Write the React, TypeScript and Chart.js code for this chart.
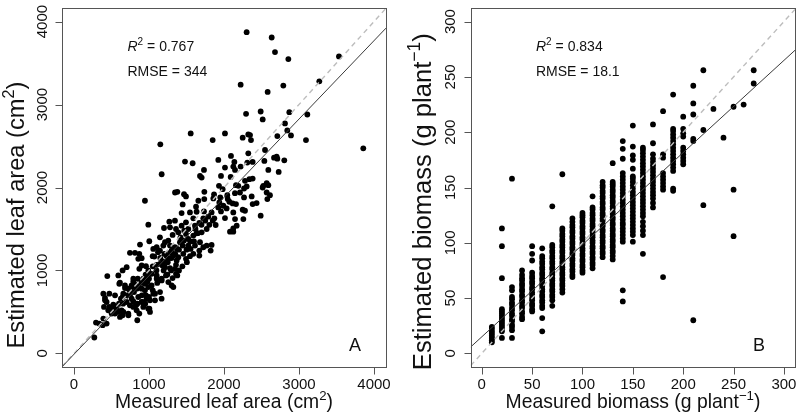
import React, { useEffect, useRef } from "react";
import { Chart, registerables } from "chart.js";
Chart.register(...registerables);

// ---------------- Panel A: leaf area ----------------
const leafTicks = [0, 1000, 2000, 3000, 4000];
const leafMeasured = [
  2302, 2636, 2680, 2858, 3533, 3271, 2222, 2791, 2582, 2294,
  2489, 2871, 3111, 2516, 2813, 2844, 2893, 2711, 3093, 3857,
  1556, 2013, 1849, 2324, 2347, 2249, 2360, 1151, 1169, 1480,
  1582, 1733, 1680, 1702, 1924, 2093, 2138, 2124, 2147, 2013,
  2324, 2547, 2382, 2311, 2222, 2538, 2667, 2711, 2702, 2804,
  2591, 2729, 1960, 2089, 2160, 2191, 2267, 2302, 2338, 2382,
  2280, 2524, 2569, 2591, 2515, 1933, 1738, 1867, 1378, 1347,
  1467, 1493, 1658, 1858, 2044, 2071, 2116, 2160, 2369, 2435,
  2578, 2613, 1449, 1627, 1938, 1991, 2267, 2569, 2489, 2280,
  2249, 2258, 2147, 2124, 2080, 2124, 1982, 2146, 2213, 2382,
  1737, 2035,
  946, 991, 1435, 1546, 1635, 1733, 1835, 1924, 1960, 2013,
  2124, 2169, 1271, 1346, 1280, 1200, 1360, 1435, 1493, 1524,
  1591, 1613, 1671, 1724, 1791, 1871, 1889, 1769, 1702, 1635,
  1591, 1524, 1493, 1391, 1315, 1257, 1146, 1213, 1004, 880,
  746, 813, 871, 1057, 1071, 1102, 1146, 1191, 1280, 1346,
  1377, 1413, 1466, 1524, 1555, 1613, 1671, 1724, 1769, 1822,
  1835, 1680, 1280, 1324, 1391, 1457, 1493, 1546, 1591, 1671,
  1369, 1257, 1191, 1146, 1102, 1213, 1280, 1346, 1377, 1315,
  1226, 1168, 1102, 1035, 991, 960, 902, 857, 702, 648,
  591, 444, 604, 680, 768, 813, 857, 902, 946, 991,
  1035, 1080, 1168, 1302, 924, 946, 791, 724, 657, 626,
  702, 746, 791, 844, 915, 968, 1013, 746, 800, 857,
  413, 435, 400, 457, 502, 524, 591, 635, 648, 502,
  546, 471, 391, 724, 791, 835, 871, 924, 991, 1013,
  844, 293, 337, 382, 435, 391, 271,
  1049, 902, 1302, 1236, 1360, 871, 1005, 947, 978, 1102,
  1169, 1258, 1360, 1325, 613, 791, 680, 747, 836, 960,
  1058, 1147, 1080, 1005, 902, 827, 769, 649, 547, 414,
  471, 569, 516, 658, 725, 613,
  1100, 1150, 1205, 1250, 1300, 1050, 1000, 1110, 1195, 1295,
  1245, 1350, 1400, 1450, 1500, 1550, 1445, 1400, 1505, 1600,
  1650, 1700, 1750, 1805, 1850, 955, 900, 850, 805, 750,
  700, 655, 600, 555, 905, 950, 1000, 1050, 1120, 1180,
  1230, 1420, 1470, 1620, 1950, 2050,
];
const leafEstimated = [
  3872, 3808, 3632, 3548, 3580, 3280, 3240, 3228, 3152, 2888,
  2916, 2908, 2880, 2820, 2772, 2688, 2628, 2620, 2572, 2472,
  2652, 2652, 2572, 2640, 2632, 2600, 2572, 2520, 2160, 2312,
  2292, 2212, 2140, 2120, 2332, 2380, 2308, 2252, 2212, 2240,
  2412, 2452, 2308, 2300, 2252, 2320, 2360, 2348, 2372, 2328,
  2212, 2188, 2140, 2128, 2028, 2020, 1988, 2012, 2100, 2108,
  2080, 2020, 2052, 2028, 2000, 2020, 1948, 1916, 1948, 1940,
  1920, 1892, 1840, 1868, 1908, 1828, 1808, 1800, 1892, 1812,
  1860, 1908, 1796, 1768, 1820, 1780, 1880, 1940, 1660, 1720,
  1732, 1620, 1620, 1508, 1468, 1468, 1980, 1932, 1940, 1800,
  1860, 1748,
  1840, 1552, 1692, 1700, 1708, 1712, 1700, 1760, 1712, 1632,
  1700, 1540, 1588, 1600, 1520, 1512, 1500, 1540, 1580, 1500,
  1628, 1540, 1572, 1628, 1648, 1628, 1548, 1500, 1460, 1448,
  1420, 1380, 1440, 1460, 1428, 1360, 1400, 1340, 1352, 1312,
  1212, 1212, 1200, 1260, 1168, 1280, 1240, 1300, 1300, 1280,
  1260, 1340, 1360, 1300, 1260, 1300, 1240, 1280, 1300, 1240,
  1308, 1340, 1212, 1180, 1160, 1200, 1140, 1172, 1200, 1180,
  1120, 1140, 1108, 1080, 1068, 1040, 1028, 1020, 940, 908,
  940, 900, 940, 960, 1000, 1052, 1060, 1140, 1040, 1000,
  940, 932, 840, 820, 820, 828, 812, 780, 760, 800,
  820, 720, 660, 820, 900, 840, 900, 780, 720, 660,
  620, 580, 628, 600, 620, 660, 640, 700, 740, 680,
  668, 620, 560, 520, 532, 588, 500, 520, 460, 480,
  480, 720, 720, 480, 560, 520, 480, 560, 540, 500,
  400, 372, 360, 340, 360, 420, 192,
  1172, 1148, 1240, 1100, 1068, 1020, 960, 900, 860, 900,
  880, 860, 960, 800, 852, 868, 788, 760, 780, 700,
  720, 740, 640, 540, 620, 580, 660, 680, 700, 640,
  560, 540, 500, 500, 460, 440,
  1000, 1150, 1200, 1100, 1150, 1050, 900, 850, 1000, 1000,
  950, 1200, 1250, 1300, 1250, 1350, 1050, 1000, 1100, 1350,
  1450, 1550, 1600, 1550, 1600, 950, 850, 900, 800, 750,
  700, 600, 600, 560, 700, 600, 680, 760, 1220, 1060,
  1180, 1400, 1480, 1500, 1880, 1860,
];
const leafFit = { intercept: -10, slope: 0.945 };
const leafRange = [-160, 4160];

// ---------------- Panel B: biomass ----------------
const biomassTicks = [0, 50, 100, 150, 200, 250, 300];
const biomassMeasuredLevels = [
  10, 20, 30, 40, 50, 60, 70, 80, 90, 100, 110, 120, 130, 140,
  150, 160, 170, 180, 190, 200, 210, 220, 230, 240, 250, 260, 270,
];
const biomassEstimatedByLevel = [
  [10, 12, 14, 16, 18, 20, 22, 24],
  [14, 20, 22, 24, 26, 28, 30, 32, 34, 36, 38, 40, 68, 97, 113],
  [14, 21, 24, 26, 29, 31, 34, 36, 39, 41, 44, 46, 49, 51, 57, 60, 158],
  [31, 33, 36, 38, 41, 43, 46, 48, 51, 53, 56, 58, 61, 63, 66, 68, 71, 75],
  [38, 40, 43, 45, 48, 50, 53, 55, 58, 60, 63, 65, 68, 70, 73, 84, 90, 97],
  [20, 32, 41, 43, 46, 48, 51, 53, 56, 58, 61, 63, 66, 68, 71, 73, 76, 78, 81, 83, 86, 88, 95],
  [43, 48, 51, 53, 56, 58, 61, 63, 66, 68, 71, 73, 76, 78, 81, 83, 86, 88, 91, 93, 96, 98, 133],
  [55, 58, 61, 63, 66, 68, 71, 73, 76, 78, 81, 83, 86, 88, 91, 93, 96, 98, 101, 103, 106, 108, 111, 113, 162],
  [69, 71, 74, 76, 79, 81, 84, 86, 89, 91, 94, 96, 99, 101, 104, 106, 109, 111, 114, 116, 119, 122],
  [73, 75, 78, 80, 83, 85, 88, 90, 93, 95, 98, 100, 103, 105, 108, 110, 113, 115, 118, 120, 123, 125, 127],
  [77, 80, 82, 85, 87, 90, 92, 95, 97, 100, 102, 105, 107, 110, 112, 115, 117, 120, 122, 125, 127, 130, 132, 142],
  [87, 90, 92, 95, 97, 100, 102, 105, 107, 110, 112, 115, 117, 120, 122, 125, 127, 130, 132, 135, 137, 140, 142, 145, 147, 150, 152, 155],
  [85, 88, 91, 93, 96, 98, 101, 103, 106, 108, 111, 113, 116, 118, 121, 123, 126, 128, 131, 133, 136, 138, 141, 143, 146, 148, 151, 153, 155, 172],
  [47, 57, 101, 104, 107, 110, 113, 116, 118, 121, 124, 127, 130, 133, 136, 139, 142, 145, 148, 151, 154, 157, 160, 163, 176, 185, 192],
  [101, 107, 110, 113, 116, 119, 122, 125, 128, 131, 134, 137, 140, 143, 146, 149, 152, 155, 158, 160, 167, 175, 179, 187, 206],
  [90, 107, 111, 115, 119, 124, 127, 130, 133, 136, 139, 142, 145, 148, 151, 154, 157, 160, 163, 166, 169, 172, 175, 178, 181, 184, 186],
  [132, 136, 140, 143, 146, 149, 152, 155, 158, 161, 164, 167, 170, 173, 176, 180, 190, 207],
  [69, 148, 151, 154, 157, 160, 163, 177, 180, 219],
  [147, 149, 165, 168, 171, 174, 177, 180, 183, 186, 189, 192, 195, 198, 201, 203, 234],
  [171, 174, 177, 180, 183, 186, 196, 199, 203, 214],
  [30, 192, 194, 216, 226, 242],
  [134, 202, 256],
  [221],
  [195],
  [106, 148, 223],
  [225],
  [244, 256],
];
const biomassFit = { intercept: 15, slope: 0.833 };
const biomassRange = [-11, 311];
const biomassYRange = [-12, 312];

const FONT = '"Liberation Sans", Arial, Helvetica, sans-serif';

type Part = { text: string; size: number; italic?: boolean; raise?: number };

function setFont(ctx: CanvasRenderingContext2D, p: Part, scale: number) {
  ctx.font = `${p.italic ? "italic " : ""}${p.size * scale}px ${FONT}`;
}
function measureParts(ctx: CanvasRenderingContext2D, parts: Part[], scale: number) {
  let w = 0;
  for (const p of parts) {
    setFont(ctx, p, scale);
    w += ctx.measureText(p.text).width;
  }
  return w;
}
function drawParts(
  ctx: CanvasRenderingContext2D,
  parts: Part[],
  x: number,
  y: number,
  align: "left" | "center",
  scale = 1
) {
  const total = measureParts(ctx, parts, scale);
  let cx = align === "center" ? x - total / 2 : x;
  ctx.textAlign = "left";
  ctx.textBaseline = "alphabetic";
  for (const p of parts) {
    setFont(ctx, p, scale);
    ctx.fillText(p.text, cx, y - (p.raise || 0) * scale);
    cx += ctx.measureText(p.text).width;
  }
}
function fitScale(ctx: CanvasRenderingContext2D, parts: Part[], target: number) {
  return target / measureParts(ctx, parts, 1);
}

type PanelCfg = {
  xs: number[];
  ys: number[];
  xRange: number[];
  yRange: number[];
  ticks: number[];
  fit: { intercept: number; slope: number };
  padding: { left: number; right: number; top: number; bottom: number };
  xTitle: Part[];
  xTitleCenter: number;
  xTitleWidth: number;
  yTitle: Part[];
  yTitleCenter: number;
  yTitleBaseline: number;
  yTitleLength: number;
  yTickBaseline: number;
  r2: Part[];
  rmse: Part[];
  textLeft: number;
  letter: string;
  letterX: number;
};

function makePlugin(cfg: PanelCfg) {
  return {
    id: "rstyle",
    afterDraw(chart: any) {
      const ctx: CanvasRenderingContext2D = chart.ctx;
      const { left, right, top, bottom } = chart.chartArea;
      const sx = chart.scales.x;
      const sy = chart.scales.y;
      const L = Math.round(left) + 0.5;
      const R = Math.round(right) + 0.5;
      const T = Math.round(top) + 0.5;
      const B = Math.round(bottom) + 0.5;
      ctx.save();
      ctx.strokeStyle = "#555";
      ctx.lineWidth = 1;
      ctx.strokeRect(L, T, R - L, B - T);
      ctx.beginPath();
      for (const t of cfg.ticks) {
        const px = Math.round(sx.getPixelForValue(t)) + 0.5;
        ctx.moveTo(px, B);
        ctx.lineTo(px, B + 7);
        const py = Math.round(sy.getPixelForValue(t)) + 0.5;
        ctx.moveTo(L, py);
        ctx.lineTo(L - 7, py);
      }
      ctx.stroke();

      ctx.fillStyle = "#111";
      ctx.font = `15px ${FONT}`;
      ctx.textAlign = "center";
      ctx.textBaseline = "alphabetic";
      for (const t of cfg.ticks) {
        ctx.fillText(String(t), sx.getPixelForValue(t), 389);
      }
      for (const t of cfg.ticks) {
        ctx.save();
        ctx.translate(cfg.yTickBaseline, sy.getPixelForValue(t));
        ctx.rotate(-Math.PI / 2);
        ctx.fillText(String(t), 0, 0);
        ctx.restore();
      }
      const xs = fitScale(ctx, cfg.xTitle, cfg.xTitleWidth);
      drawParts(ctx, cfg.xTitle, cfg.xTitleCenter, 408, "center", xs);
      const ys = fitScale(ctx, cfg.yTitle, cfg.yTitleLength);
      ctx.save();
      ctx.translate(cfg.yTitleBaseline, cfg.yTitleCenter);
      ctx.rotate(-Math.PI / 2);
      drawParts(ctx, cfg.yTitle, 0, 0, "center", ys);
      ctx.restore();
      drawParts(ctx, cfg.r2, cfg.textLeft, 50.5, "left");
      drawParts(ctx, cfg.rmse, cfg.textLeft, 76, "left");
      ctx.font = `18px ${FONT}`;
      ctx.textAlign = "left";
      ctx.fillText(cfg.letter, cfg.letterX, 351);
      ctx.restore();
    },
  };
}

function Panel({ cfg }: { cfg: PanelCfg }) {
  const ref = useRef<HTMLCanvasElement>(null);
  useEffect(() => {
    if (!ref.current) return;
    const pts = cfg.xs.map((x, i) => ({ x, y: cfg.ys[i] }));
    const [x0, x1] = cfg.xRange;
    const [y0, y1] = cfg.yRange;
    const fitLine = [
      { x: x0, y: cfg.fit.intercept + cfg.fit.slope * x0 },
      { x: x1, y: cfg.fit.intercept + cfg.fit.slope * x1 },
    ];
    const oneToOne = [
      { x: Math.max(x0, y0), y: Math.max(x0, y0) },
      { x: Math.min(x1, y1), y: Math.min(x1, y1) },
    ];
    const chart = new Chart(ref.current, {
      type: "scatter",
      data: {
        datasets: [
          {
            data: fitLine,
            showLine: true,
            pointRadius: 0,
            borderColor: "#3a3a3a",
            borderWidth: 1,
            order: 0,
          } as any,
          {
            data: oneToOne,
            showLine: true,
            pointRadius: 0,
            borderColor: "#bdbdbd",
            borderWidth: 1.4,
            borderDash: [5, 4],
            order: 1,
          } as any,
          {
            data: pts,
            pointRadius: 2.9,
            pointBackgroundColor: "#000",
            pointBorderWidth: 0,
            order: 2,
          } as any,
        ],
      },
      options: {
        animation: false,
        responsive: false,
        devicePixelRatio: 1,
        events: [],
        layout: { padding: cfg.padding },
        plugins: { legend: { display: false }, tooltip: { enabled: false } },
        scales: {
          x: { type: "linear", min: x0, max: x1, display: false },
          y: { type: "linear", min: y0, max: y1, display: false },
        },
      } as any,
      plugins: [makePlugin(cfg)],
    });
    return () => chart.destroy();
  }, [cfg]);
  return <canvas ref={ref} width={400} height={414} style={{ width: 400, height: 414, display: "block" }} />;
}

const biomassMeasured: number[] = [];
const biomassEstimated: number[] = [];
biomassMeasuredLevels.forEach((m, i) => {
  for (const e of biomassEstimatedByLevel[i]) {
    biomassMeasured.push(m);
    biomassEstimated.push(e);
  }
});

const cfgA: PanelCfg = {
  xs: leafMeasured,
  ys: leafEstimated,
  xRange: leafRange,
  yRange: leafRange,
  ticks: leafTicks,
  fit: leafFit,
  padding: { left: 62, right: 14, top: 8.3, bottom: 47.3 },
  xTitle: [
    { text: "Measured leaf area (cm", size: 19 },
    { text: "2", size: 13, raise: 8 },
    { text: ")", size: 19 },
  ],
  xTitleCenter: 224,
  xTitleWidth: 218,
  yTitle: [
    { text: "Estimated leaf area (cm", size: 19 },
    { text: "2", size: 13, raise: 8 },
    { text: ")", size: 19 },
  ],
  yTitleCenter: 215,
  yTitleBaseline: 23.5,
  yTitleLength: 267,
  yTickBaseline: 47,
  r2: [
    { text: "R", size: 14, italic: true },
    { text: "2", size: 10, raise: 6 },
    { text: " = 0.767", size: 14 },
  ],
  rmse: [{ text: "RMSE = 344", size: 14 }],
  textLeft: 127.5,
  letter: "A",
  letterX: 349,
};

const cfgB: PanelCfg = {
  xs: biomassMeasured,
  ys: biomassEstimated,
  xRange: biomassRange,
  yRange: biomassYRange,
  ticks: biomassTicks,
  fit: biomassFit,
  padding: { left: 70.7, right: 5, top: 8.3, bottom: 47.3 },
  xTitle: [
    { text: "Measured biomass (g plant", size: 19 },
    { text: "\u22121", size: 13, raise: 8 },
    { text: ")", size: 19 },
  ],
  xTitleCenter: 233,
  xTitleWidth: 255,
  yTitle: [
    { text: "Estimated biomass (g plant", size: 19 },
    { text: "\u22121", size: 13, raise: 8 },
    { text: ")", size: 19 },
  ],
  yTitleCenter: 201.7,
  yTitleBaseline: 31,
  yTitleLength: 337,
  yTickBaseline: 55,
  r2: [
    { text: "R", size: 14, italic: true },
    { text: "2", size: 10, raise: 6 },
    { text: " = 0.834", size: 14 },
  ],
  rmse: [{ text: "RMSE = 18.1", size: 14 }],
  textLeft: 136,
  letter: "B",
  letterX: 353,
};

export default function App() {
  return (
    <div
      style={{
        position: "absolute",
        left: 0,
        top: 0,
        width: 800,
        height: 414,
        display: "flex",
        background: "#fff",
      }}
    >
      <Panel cfg={cfgA} />
      <Panel cfg={cfgB} />
    </div>
  );
}
